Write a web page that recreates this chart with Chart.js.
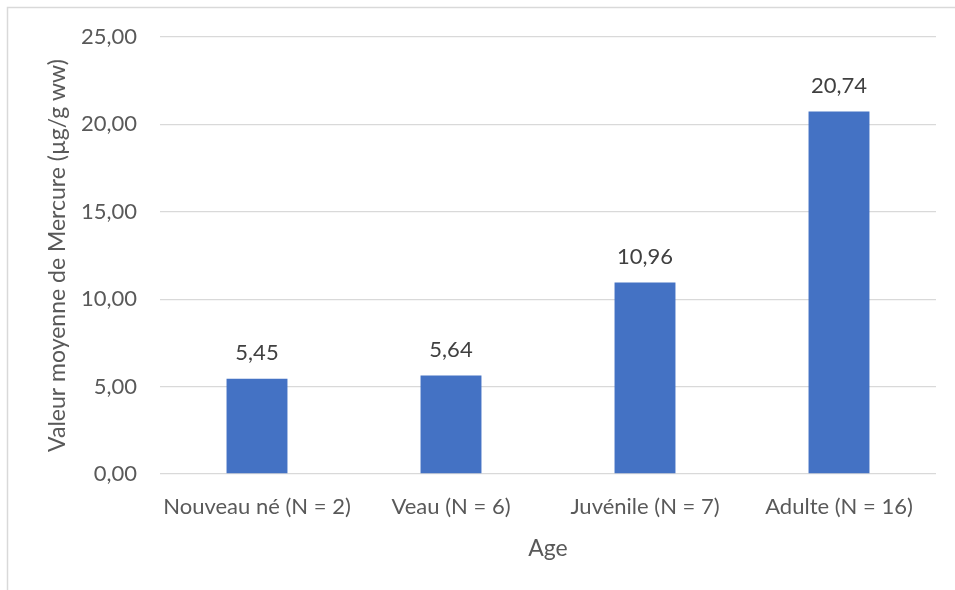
<!DOCTYPE html>
<html>
<head>
<meta charset="utf-8">
<script src="https://cdn.jsdelivr.net/npm/chart.js@4"></script>
<style>
  html, body { margin: 0; padding: 0; background: #fff; }
  #wrap { width: 955px; height: 590px; position: relative; }
</style>
</head>
<body>
<div id="wrap"><canvas id="mercureChart"></canvas></div>
<script>
const categories = ['Nouveau né (N = 2)', 'Veau (N = 6)', 'Juvénile (N = 7)', 'Adulte (N = 16)'];
const mercureValues = [5.45, 5.64, 10.96, 20.74];
const yTicks = [0, 5, 10, 15, 20, 25];

const FONT = 'Lato, "Open Sans", sans-serif';

function formatFr(v) {
    return v.toFixed(2).replace('.', ',');
}

// cadre gris (haut et gauche, le reste est rogné)
const frame = {
    id: 'frame',
    beforeDraw(chart) {
        const c = chart.ctx;
        c.save();
        c.strokeStyle = '#d9d9d9';
        c.lineWidth = 1.5;
        c.beginPath();
        c.moveTo(7.5, chart.height);
        c.lineTo(7.5, 7.5);
        c.lineTo(chart.width, 7.5);
        c.stroke();
        c.restore();
    },
};

// étiquettes de valeurs au-dessus des barres
const valueLabels = {
    id: 'valueLabels',
    afterDatasetsDraw(chart) {
        const c = chart.ctx;
        const meta = chart.getDatasetMeta(0);
        c.save();
        c.font = '22px ' + FONT;
        c.fillStyle = '#404040';
        c.textAlign = 'center';
        c.textBaseline = 'middle';
        meta.data.forEach((bar, i) => {
            c.fillText(formatFr(mercureValues[i]), bar.x, bar.y - 26);
        });
        c.restore();
    },
};

new Chart(document.getElementById('mercureChart'), {
    type: 'bar',
    data: {
        labels: categories,
        datasets: [{
            data: mercureValues,
            backgroundColor: '#4472c4',
            categoryPercentage: 1,
            barPercentage: 0.314,
        }],
    },
    options: {
        responsive: true,
        maintainAspectRatio: false,
        animation: false,
        layout: { padding: { top: 37, right: 19, left: 0, bottom: 0 } },
        plugins: {
            legend: { display: false },
            tooltip: { enabled: false },
        },
        scales: {
            x: {
                grid: { display: false },
                border: { display: false },
                ticks: { color: '#595959', font: { family: FONT, size: 22 }, padding: 12, maxRotation: 0 },
                title: {
                    display: true,
                    text: 'Age',
                    color: '#595959',
                    font: { family: FONT, size: 23 },
                    padding: { top: 0, bottom: 28 },
                },
                afterFit(scale) { scale.height = 116; },
            },
            y: {
                min: 0,
                max: 25,
                afterBuildTicks(scale) { scale.ticks = yTicks.map((v) => ({ value: v })); },
                grid: { color: '#d9d9d9', lineWidth: 1.3, drawTicks: false },
                border: { display: false },
                ticks: {
                    color: '#595959',
                    font: { family: FONT, size: 22 },
                    padding: 23,
                    callback: (v) => formatFr(v),
                },
                title: {
                    display: true,
                    text: 'Valeur moyenne de Mercure (µg/g ww)',
                    color: '#595959',
                    font: { family: FONT, size: 23 },
                    padding: { top: 44, bottom: 0 },
                },
                afterFit(scale) { scale.width = 160; },
            },
        },
    },
    plugins: [frame, valueLabels],
});
</script>
</body>
</html>
